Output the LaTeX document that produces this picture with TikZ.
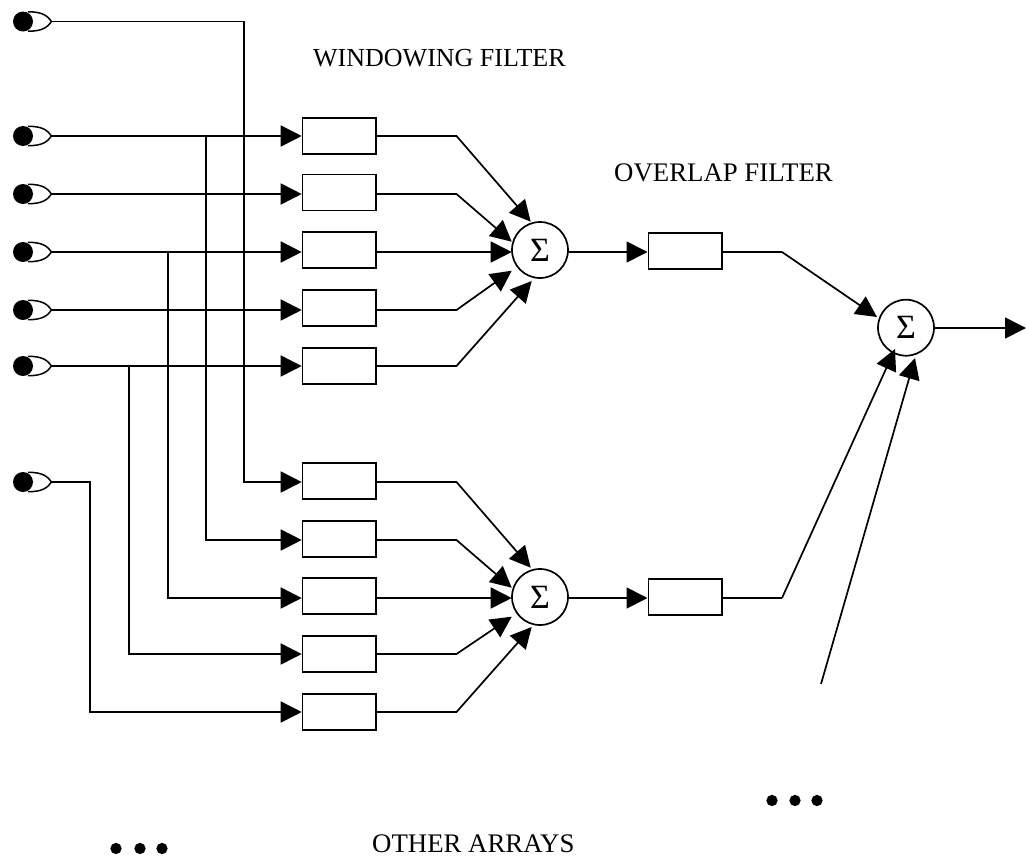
\documentclass[tikz,border=0pt]{standalone}
\usepackage{fontspec}
\setmainfont{Liberation Serif}
\usetikzlibrary{arrows.meta}
\tikzset{
  wire/.style={line width=1.7pt},
  arrowed/.style={wire,-{Triangle[length=21pt,width=21pt]}},
  filterbox/.style={draw,line width=1.7pt,minimum width=73.3pt,minimum height=36pt,inner sep=0pt},
  sumnode/.style={draw,circle,line width=1.7pt,minimum size=56pt,inner sep=0pt,font=\fontsize{34}{34}\selectfont},
  label/.style={inner sep=0pt,anchor=base west},
  dotshape/.style={fill=black,draw=none,circle,minimum size=11.3pt,inner sep=0pt}
}
\begin{document}
\begin{tikzpicture}[x=1pt,y=-1pt]
\useasboundingbox (0,0) rectangle (1026,857);
% inputs
\foreach \n/\y in {a/21.5,b/136,c/194,d/252,e/310,f/366,g/482}{
  \fill (23,\y) ellipse (10pt and 10pt);
  \draw[line width=1.5pt] (28,\y-9.6) .. controls (43,\y-10) and (48,\y-5) .. (51.5,\y)
     .. controls (48,\y+5) and (43,\y+10) .. (28,\y+9.6);
  \coordinate (in\n) at (51.5,\y);
}
% window filters
\foreach \n/\y/\r in {b/135.7/136,c/192.5/194,d/250/252,e/307.8/310,f/366/366}{
  \node[filterbox] (u\n) at (339.2,\y) {};
  \coordinate (ub\n) at (456.5,\r);
}
\foreach \n/\y/\r in {a/481/482,b/539/540,c/596/598,d/654/654,e/711.7/712}{
  \node[filterbox] (l\n) at (339.2,\y) {};
  \coordinate (lb\n) at (456.5,\r);
}
\node[sumnode] (s1) at (540,250) {Σ};
\node[sumnode] (s2) at (540,597) {Σ};
\node[sumnode] (s3) at (906,327.7) {Σ};
\node[filterbox] (o1) at (685,251) {};
\node[filterbox] (o2) at (685,597) {};
\coordinate (bend1) at (782,252);
\coordinate (bend2) at (782,598);
\coordinate (other) at (821,684);
\coordinate (out) at (1026,328);
\coordinate (tip1) at (877,317);
\coordinate (tip2) at (895,349);
\coordinate (tip3) at (915,358);
\foreach \s/\t/\yy in {s1/u/0,s2/l/346}{
  \coordinate (\s a) at (530.7,221.7+\yy);
  \coordinate (\s b) at (511.7,241.7+\yy);
  \coordinate (\s c) at (511.7,252+\yy);
  \coordinate (\s d) at (511.7,270.7+\yy);
  \coordinate (\s e) at (531.7,281+\yy);
}
% straight inputs
\draw[arrowed] (inb) -- (ub.west |- inb);
\draw[arrowed] (inc) -- (uc.west |- inc);
\draw[arrowed] (ind) -- (ud.west |- ind);
\draw[arrowed] (ine) -- (ue.west |- ine);
\draw[arrowed] (inf) -- (uf.west |- inf);
% branches
\draw[arrowed] (ina) -| (244,482) -- (la.west |- lba);
\draw[arrowed] (206,136) |- (lb.west |- lbb);
\draw[arrowed] (168,252) |- (lc.west |- lbc);
\draw[arrowed] (129,366) |- (ld.west |- lbd);
\draw[arrowed] (ing) -| (90,712) -- (le.west |- lbe);
% filters to sums
\draw[wire] (ub.east |- ubb) -- (ubb);
\draw[wire] (uc.east |- ubc) -- (ubc);
\draw[wire] (ud.east |- ubd) -- (ubd);
\draw[wire] (ue.east |- ube) -- (ube);
\draw[wire] (uf.east |- ubf) -- (ubf);
\draw[arrowed] (ubb) -- (s1a);
\draw[arrowed] (ubc) -- (s1b);
\draw[arrowed] (ubd) -- (s1c);
\draw[arrowed] (ube) -- (s1d);
\draw[arrowed] (ubf) -- (s1e);
\draw[wire] (la.east |- lba) -- (lba);
\draw[wire] (lb.east |- lbb) -- (lbb);
\draw[wire] (lc.east |- lbc) -- (lbc);
\draw[wire] (ld.east |- lbd) -- (lbd);
\draw[wire] (le.east |- lbe) -- (lbe);
\draw[arrowed] (lba) -- (s2a);
\draw[arrowed] (lbb) -- (s2b);
\draw[arrowed] (lbc) -- (s2c);
\draw[arrowed] (lbd) -- (s2d);
\draw[arrowed] (lbe) -- (s2e);
% overlap
\draw[arrowed] (s1.east |- bend1) -- (o1.west |- bend1);
\draw[arrowed] (s2.east |- bend2) -- (o2.west |- bend2);
\draw[wire] (o1.east |- bend1) -- (bend1);
\draw[wire] (o2.east |- bend2) -- (bend2);
\draw[arrowed] (bend1) -- (tip1);
\draw[arrowed] (bend2) -- (tip2);
\draw[arrowed] (other) -- (tip3);
\draw[arrowed] (s3.east |- out) -- (out);
% labels
\node[label,font=\fontsize{26}{30}\selectfont] (t1) at (313,66) {WINDOWING FILTER};
\node[label,font=\fontsize{26.8}{30}\selectfont] (t2) at (614,181) {OVERLAP FILTER};
\node[label,font=\fontsize{26.8}{30}\selectfont] (t3) at (372,852.7) {OTHER ARRAYS};
% dots
\foreach \n/\x in {1/116,2/140,3/162}{\node[dotshape] (dl\n) at (\x,848.5) {};}
\foreach \n/\x in {1/772,2/795,3/817}{\node[dotshape] (dr\n) at (\x,800.5) {};}
\end{tikzpicture}
\end{document}
